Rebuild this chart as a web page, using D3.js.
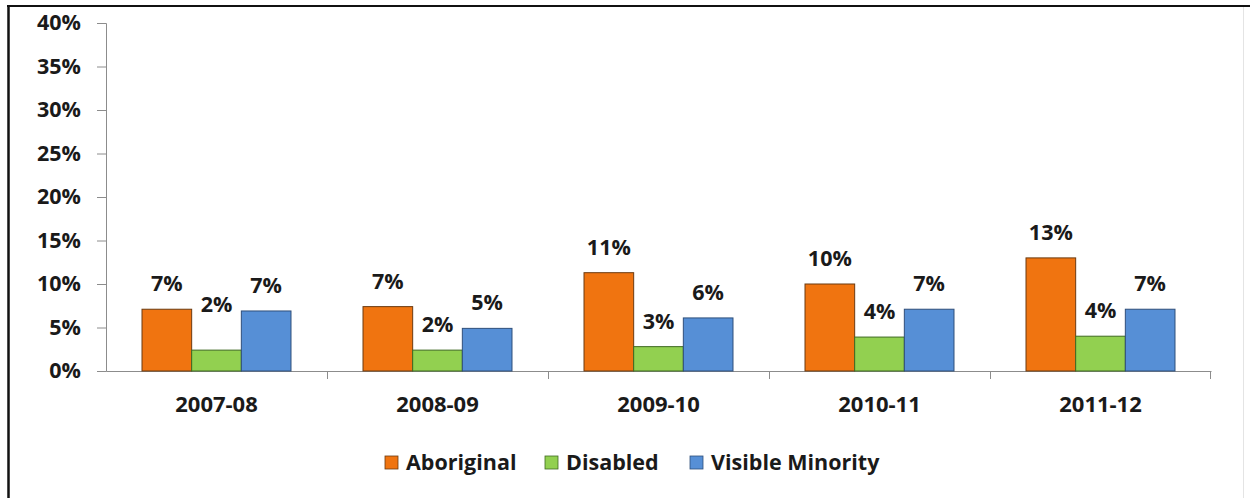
<!DOCTYPE html>
<html>
<head>
<meta charset="utf-8">
<script src="https://cdn.jsdelivr.net/npm/d3@7"></script>
<style>
  html,body{margin:0;padding:0;background:#fff;}
  svg{display:block;font-family:"Open Sans",sans-serif;font-weight:700;}
</style>
</head>
<body>
<div id="chart"></div>
<script>
const years = ["2007-08","2008-09","2009-10","2010-11","2011-12"];
const groups = ["Aboriginal","Disabled","Visible Minority"];
const aboriginal = [7.1, 7.4, 11.3, 10.0, 13.0];
const disabled = [2.4, 2.4, 2.8, 3.9, 4.0];
const visibleMinority = [6.9, 4.9, 6.1, 7.1, 7.1];
const yTicks = [0,5,10,15,20,25,30,35,40];

(function(){
  const W = 1250, H = 498;
  const colors = {"Aboriginal":"#f07410","Disabled":"#92d050","Visible Minority":"#568fd6"};
  const strokes = {"Aboriginal":"#6b3a10","Disabled":"#3f6a22","Visible Minority":"#2f4f7a"};
  const series = {"Aboriginal":aboriginal,"Disabled":disabled,"Visible Minority":visibleMinority};
  const fs = 21.5;

  const svg = d3.select("#chart").append("svg")
      .attr("width",W).attr("height",H);

  // frame
  svg.append("line").attr("x1",7).attr("x2",W).attr("y1",6).attr("y2",6)
    .attr("stroke","#111").attr("stroke-width",2);
  svg.append("line").attr("x1",8.5).attr("x2",8.5).attr("y1",5).attr("y2",H)
    .attr("stroke","#111").attr("stroke-width",2.5);
  svg.append("line").attr("x1",1243.5).attr("x2",1243.5).attr("y1",7).attr("y2",H)
    .attr("stroke","#e4e4e4").attr("stroke-width",1);

  const x = d3.scaleBand().domain(years).range([106,1211]).paddingInner(0).paddingOuter(0);
  const xi = d3.scaleBand().domain(groups).range([0,x.bandwidth()]).paddingInner(0).paddingOuter(0.725);
  const y = d3.scaleLinear().domain([0,40]).range([371,23]);

  // y axis
  const ya = svg.append("g").attr("transform","translate(106,0)")
    .call(d3.axisLeft(y).tickValues(yTicks).tickSize(9).tickPadding(16).tickFormat(d=>d+"%"));
  ya.select(".domain").attr("stroke","#8c8c8c");
  ya.selectAll(".tick line").attr("stroke","#8c8c8c");
  ya.selectAll(".tick text").attr("fill","#1a1a1a").attr("font-size",fs)
    .attr("font-family","Open Sans").attr("font-weight",700);

  // x axis
  const xa = svg.append("g").attr("transform","translate(0,371)")
    .call(d3.axisBottom(x).tickSize(0).tickPadding(25));
  xa.select(".domain").attr("stroke","#8c8c8c");
  xa.selectAll(".tick text").attr("fill","#1a1a1a").attr("font-size",fs+0.5)
    .attr("font-family","Open Sans").attr("font-weight",700);
  // category boundary ticks
  xa.selectAll("line.bound")
    .data(years.slice(1).concat(["end"]))
    .join("line").attr("class","bound")
    .attr("x1",d=>d==="end"?1210.5:Math.round(x(d))+0.5)
    .attr("x2",d=>d==="end"?1210.5:Math.round(x(d))+0.5)
    .attr("y1",0).attr("y2",8)
    .attr("stroke","#8c8c8c");

  const rows = [];
  years.forEach((yr,i)=>groups.forEach(g=>rows.push({year:yr,group:g,value:series[g][i]})));

  // bars
  svg.append("g").selectAll("rect")
    .data(rows).join("rect")
    .attr("x",d=>x(d.year)+xi(d.group))
    .attr("y",d=>y(d.value))
    .attr("width",xi.bandwidth())
    .attr("height",d=>y(0)-y(d.value))
    .attr("fill",d=>colors[d.group])
    .attr("stroke",d=>strokes[d.group])
    .attr("stroke-width",1);

  // value labels (one label was dragged higher in the original)
  const nudge = {"2007-08|Disabled":-20};
  svg.append("g").selectAll("text")
    .data(rows).join("text")
    .attr("x",d=>x(d.year)+xi(d.group)+xi.bandwidth()/2)
    .attr("y",d=>y(d.value)-18+(nudge[d.year+"|"+d.group]||0))
    .attr("text-anchor","middle")
    .attr("font-size",fs)
    .attr("fill","#1a1a1a")
    .text(d=>Math.round(d.value)+"%");

  // legend
  const legX = [385,545,690];
  const leg = svg.append("g").selectAll("g")
    .data(groups).join("g")
    .attr("transform",(d,i)=>`translate(${legX[i]},456)`);
  leg.append("rect").attr("width",13).attr("height",13)
    .attr("fill",d=>colors[d]).attr("stroke",d=>strokes[d]).attr("stroke-width",0.8);
  leg.append("text").attr("x",21).attr("y",14)
    .attr("font-size",fs).attr("fill","#1a1a1a")
    .text(d=>d);
})();
</script>
</body>
</html>
